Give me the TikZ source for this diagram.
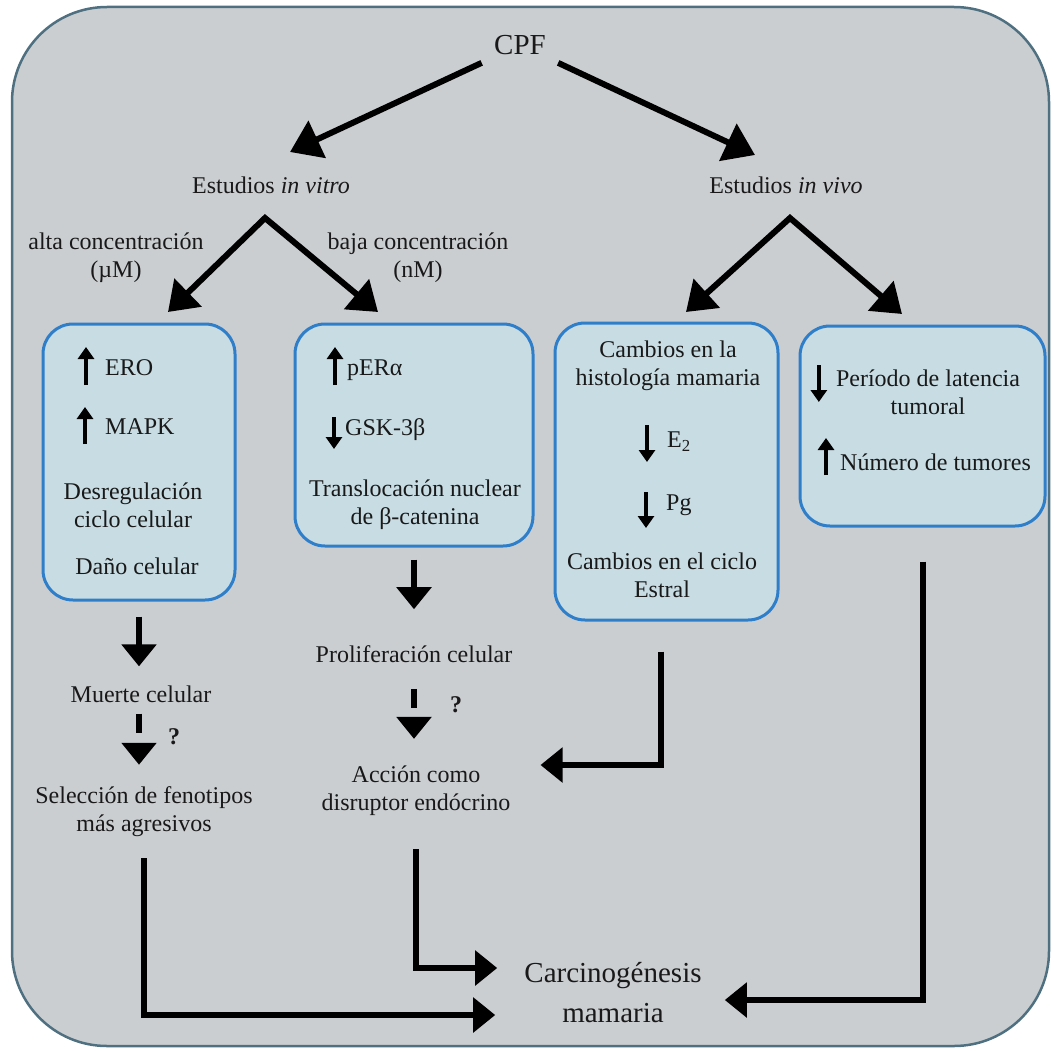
\documentclass[tikz,border=0pt]{standalone}
\usepackage{fontspec}
\setmainfont{Liberation Serif}
\usetikzlibrary{arrows.meta,calc,positioning}
\definecolor{fondo}{HTML}{CBCED1}
\definecolor{marco}{HTML}{4F7080}
\definecolor{celeste}{HTML}{C8DCE3}
\definecolor{azul}{HTML}{2F7EC9}
\tikzset{
  caja/.style={draw=azul, fill=celeste, line width=3pt, rounded corners=30pt},
  txt/.style={font=\fontsize{24}{28}\selectfont, align=center, inner sep=2pt, text=black!90},
  grande/.style={txt, font=\fontsize{29}{40}\selectfont},
  flechaG/.style={line width=6pt, -{Triangle[width=40pt,length=30pt]}},
  doble/.style={line width=6pt, {Triangle[width=38pt,length=28pt]}-{Triangle[width=38pt,length=28pt]}},
  flecha/.style={line width=6pt, -{Triangle[width=34pt,length=22pt]}},
  flechaP/.style={flecha, dash pattern=on 19pt off 40pt},
  flechita/.style={line width=4pt, -{Triangle[width=16pt,length=12pt]}},
}
\begin{document}
\begin{tikzpicture}[x=1pt,y=-1pt]
	\useasboundingbox (0,0) rectangle (1054,1051);
	\draw[draw=marco, fill=fondo, line width=2.5pt, rounded corners=95pt] (12,7) rectangle (1049,1046);
	
	\node[grande] (cpf) at (520,45) {CPF};
	\node[txt] (vitro) at (271,185) {Estudios \textit{in vitro}};
	\node[txt] (vivo) at (786,185) {Estudios \textit{in vivo}};
	\node[txt] (alta) at (116,258) {alta concentración\\(µM)};
	\node[txt] (baja) at (418,258) {baja concentración\\(nM)};
	
	\coordinate (tipVitro) at (290,152);
	\coordinate (tipVivo) at (755,155);
	\coordinate (splitVitro) at (265,218);
	\coordinate (splitVivo) at (790,218);
	\coordinate (tipA) at (168,312);
	\coordinate (tipB) at (378,312);
	\coordinate (tipC) at (686,312);
	\coordinate (tipD) at (902,314);
	
	\draw[flechaG, shorten <=14pt] (cpf) -- (tipVitro);
	\draw[flechaG, shorten <=14pt] (cpf) -- (tipVivo);
	\draw[doble] (tipA) -- (splitVitro) -- (tipB);
	\draw[doble] (tipC) -- (splitVivo) -- (tipD);
	
	\node[caja, minimum width=192pt, minimum height=276pt] (cajaA) at (139,462) {};
	\node[caja, minimum width=238pt, minimum height=222pt] (cajaB) at (414,435) {};
	\node[caja, minimum width=223pt, minimum height=297pt] (cajaC) at (666.5,471.5) {};
	\node[caja, minimum width=245pt, minimum height=200pt] (cajaD) at (922.5,426) {};
	
	\node[txt, anchor=west] (ero) at (103,368) {ERO};
	\node[txt, anchor=west] (mapk) at (103,427) {MAPK};
	\node[txt] (desreg) at (133,505) {Desregulación\\ciclo celular};
	\node[txt] (dano) at (137,566) {Daño celular};
	\draw[flechita] ($(ero.west)+(-17,17)$) -- ++(0,-38);
	\draw[flechita] ($(mapk.west)+(-18,17)$) -- ++(0,-37);
	
	\node[txt, anchor=west] (perA) at (345,370) {pERα};
	\node[txt, anchor=west] (gsk) at (343,430) {GSK-3β};
	\node[txt] (transl) at (415,505) {Translocación nuclear\\de β-catenina};
	\draw[flechita] ($(perA.west)+(-10,15)$) -- ++(0,-38);
	\draw[flechita] ($(gsk.west)+(-9,-13)$) -- ++(0,32);
	
	\node[txt] (histo) at (668,366) {Cambios en la\\histología mamaria};
	\node[txt, anchor=west] (e2) at (665,442) {E\textsubscript{2}};
	\node[txt, anchor=west] (pg) at (664,505) {Pg};
	\node[txt] (estral) at (662,575) {Cambios en el ciclo\\Estral};
	\draw[flechita] ($(e2.west)+(-18,-17)$) -- ++(0,37);
	\draw[flechita] ($(pg.west)+(-18,-13)$) -- ++(0,36);
	
	\node[txt] (latencia) at (928,392) {Período de latencia\\tumoral};
	\node[txt, anchor=west] (tumores) at (838,462) {Número de tumores};
	\draw[flechita] ($(latencia.west)+(-15,-27)$) -- ++(0,37);
	\draw[flechita] ($(tumores.west)+(-12,13)$) -- ++(0,-37);
	
	\node[txt] (muerte) at (141,694) {Muerte celular};
	\node[txt] (seleccion) at (144,812) {Selección de fenotipos\\más agresivos};
	\node[txt] (prolif) at (414,654) {Proliferación celular};
	\node[txt] (accion) at (416,791) {Acción como\\disruptor endócrino};
	\node[txt] (q1) at (174,737) {\textbf{?}};
	\node[txt] (q2) at (456,705) {\textbf{?}};
	\node[grande] (carcino) at (613,993) {Carcinogénesis\\mamaria};
	
	\draw[flecha, shorten <=15pt, shorten >=17pt] (cajaA.south) -- (cajaA.south |- muerte.north);
	\draw[flechaP, shorten <=9pt, shorten >=20pt] (cajaA.south |- muerte.south) -- (cajaA.south |- seleccion.north);
	\draw[flecha, shorten <=12pt, shorten >=34pt] (cajaB.south) -- (cajaB.south |- prolif.north);
	\draw[flechaP, shorten <=24pt, shorten >=25pt] (cajaB.south |- prolif.south) -- (cajaB.south |- accion.north);
	
	\draw[flecha, shorten <=30pt] ([xshift=-6pt]cajaC.south) |- ([xshift=28pt,yshift=26pt]accion.east);
	\draw[flecha, shorten <=34pt] (cajaD.south) |- ([xshift=21pt,yshift=-7pt]carcino.east);
	\draw[flecha, shorten <=31pt] (accion.south) |- ([xshift=-25pt,yshift=25pt]carcino.west);
	\draw[flecha, shorten <=19pt] (seleccion.south) |- ([xshift=-27pt,yshift=-22pt]carcino.west);
\end{tikzpicture}
\end{document}
